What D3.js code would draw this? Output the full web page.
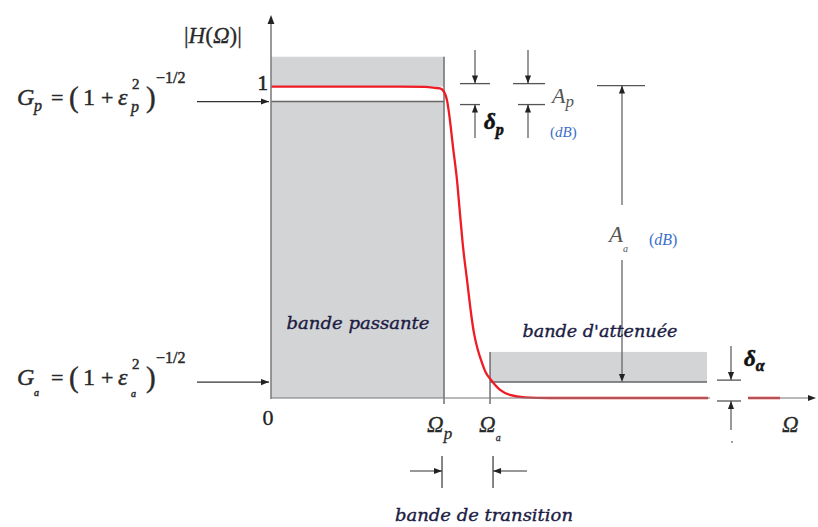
<!DOCTYPE html>
<html>
<head>
<meta charset="utf-8">
<script src="https://cdn.jsdelivr.net/npm/d3@7"></script>
<style>
  html, body { margin: 0; padding: 0; background: #fff; }
  svg { display: block; }
</style>
</head>
<body>
<svg id="chart" width="818" height="527"></svg>
<script>
// ---- Low-pass filter template: gain levels and band edges ----
const gainUnity = 1;          // |H| = 1
const gainPass = 0.952;       // G_p, passband floor
const gainStop = 0.051;       // G_a, stopband ceiling
const passBoxTop = 1.096;     // top of the forbidden region above the passband
const stopBoxTop = 0.148;     // top of the forbidden region above the stopband
const gainAxisMax = 1.23;

const omegaPass = 1.0;        // Ω_p
const omegaStop = 1.266;      // Ω_a
const omegaStopEnd = 2.52;    // end of the stopband box
const omegaAxisMax = 3.15;

// Magnitude response |H(Ω)|
const responseOmega = [0, 0.746, 0.89, 0.948, 0.977, 1.0, 1.017, 1.029, 1.052, 1.075, 1.092,
  1.110, 1.133, 1.156, 1.173, 1.191, 1.220, 1.243, 1.272, 1.324, 1.381, 1.468, 1.613, 2.526];
const responseGain = [1.0, 1.0, 0.999, 0.996, 0.994, 0.983, 0.957, 0.915, 0.806, 0.700, 0.594,
  0.485, 0.379, 0.273, 0.209, 0.164, 0.112, 0.080, 0.058, 0.026, 0.010, 0.002, 0, 0];
// Response continuing past the axis break
const tailOmega = [2.757, 2.942];
const tailGain = [0, 0];

// Axis break on the frequency axis
const breakStart = 2.537, breakEnd = 2.757;

// ---- Scales ----
const x = d3.scaleLinear().domain([0, omegaAxisMax]).range([271, 816]);
const y = d3.scaleLinear().domain([0, gainAxisMax]).range([398, 15]);

const svg = d3.select("#chart");
const ink = "#555", axisGray = "#808080", fillGray = "#d3d4d6", red = "#ee1c24";
const serif = "'Liberation Serif', 'DejaVu Serif', serif";
const script = "'DejaVu Serif', serif";

function arrowHead(g, x2, y2, angle, size = 8, color = "#222") {
  const w = size * 0.38;
  g.append("path")
    .attr("d", `M0,0 L${-size},${-w} L${-size},${w} Z`)
    .attr("transform", `translate(${x2},${y2}) rotate(${angle})`)
    .attr("fill", color);
}
function arrow(g, x1, y1, x2, y2, color = ink, width = 1.2) {
  g.append("line").attr("x1", x1).attr("y1", y1).attr("x2", x2).attr("y2", y2)
    .attr("stroke", color).attr("stroke-width", width);
  const ang = Math.atan2(y2 - y1, x2 - x1) * 180 / Math.PI;
  arrowHead(g, x2, y2, ang);
}
function hline(g, x1, x2, yy, color = ink, width = 1.3) {
  g.append("line").attr("x1", x1).attr("x2", x2).attr("y1", yy).attr("y2", yy)
    .attr("stroke", color).attr("stroke-width", width);
}
function vline(g, xx, y1, y2, color = ink, width = 1.3) {
  g.append("line").attr("x1", xx).attr("x2", xx).attr("y1", y1).attr("y2", y2)
    .attr("stroke", color).attr("stroke-width", width);
}
function txt(g, s, xx, yy, opts = {}) {
  const t = g.append("text").attr("x", xx).attr("y", yy).text(s)
    .attr("font-family", opts.family || serif)
    .attr("font-size", opts.size || 22)
    .attr("font-style", opts.italic ? "italic" : "normal")
    .attr("font-weight", opts.bold ? "bold" : "normal")
    .attr("fill", opts.color || "#2a2a2a")
    .attr("text-anchor", opts.anchor || "start");
  if (opts.heavy) t.attr("stroke", opts.color || "#2a2a2a").attr("stroke-width", opts.heavy);
  return t;
}

const g = svg.append("g");

// ---- Tolerance boxes ----
g.append("rect").attr("x", x(0)).attr("y", y(passBoxTop))
  .attr("width", x(omegaPass) - x(0)).attr("height", y(gainUnity) - y(passBoxTop))
  .attr("fill", fillGray);
g.append("rect").attr("x", x(0)).attr("y", y(gainPass))
  .attr("width", x(omegaPass) - x(0)).attr("height", y(0) - y(gainPass))
  .attr("fill", fillGray);
g.append("rect").attr("x", x(omegaStop)).attr("y", y(stopBoxTop))
  .attr("width", x(omegaStopEnd) - x(omegaStop)).attr("height", y(gainStop) - y(stopBoxTop))
  .attr("fill", fillGray);

// Box edges
vline(g, x(omegaPass), y(passBoxTop), y(0) + 6, "#666", 1.4);
hline(g, x(0), x(omegaPass), y(gainPass), "#666", 1.5);
vline(g, x(omegaStop), y(stopBoxTop), y(0) + 6, "#666", 1.4);
hline(g, x(omegaStop), x(omegaStopEnd), y(gainStop), "#666", 1.5);

// ---- Response curve ----
const line = d3.line().x(d => x(d[0])).y(d => y(d[1])).curve(d3.curveMonotoneX);
g.append("path").datum(d3.zip(responseOmega, responseGain))
  .attr("d", line).attr("fill", "none").attr("stroke", red).attr("stroke-width", 2.3);
g.append("path").datum(d3.zip(tailOmega, tailGain))
  .attr("d", line).attr("fill", "none").attr("stroke", red).attr("stroke-width", 2.3);

// ---- Axes ----
vline(g, x(0), y(0) + 1, y(gainAxisMax) + 4, axisGray, 1.6);
arrowHead(g, x(0), y(gainAxisMax), -90, 9, "#222");
g.append("line").attr("x1", x(0)).attr("x2", x(breakStart)).attr("y1", y(0)).attr("y2", y(0))
  .attr("stroke", axisGray).attr("stroke-width", 1.8).attr("stroke-opacity", 0.55);
g.append("line").attr("x1", x(breakEnd)).attr("x2", x(omegaAxisMax) - 4).attr("y1", y(0)).attr("y2", y(0))
  .attr("stroke", axisGray).attr("stroke-width", 1.8).attr("stroke-opacity", 0.55);
arrowHead(g, x(omegaAxisMax), y(0), 0, 8, "#222");

// Axis labels
const yl = txt(g, "", 184, 43, { size: 23, heavy: 0.3 });
yl.append("tspan").text("|");
yl.append("tspan").text("H").attr("font-style", "italic");
yl.append("tspan").text("(");
yl.append("tspan").text("Ω").attr("font-style", "italic");
yl.append("tspan").text(")|");

txt(g, "1", x(0) - 3, y(gainUnity) + 3, { size: 21, anchor: "end", color: "#222", heavy: 0.6 });
txt(g, "0", x(0) - 3, 425, { size: 22, anchor: "middle", color: "#222", heavy: 0.3 });

const wp = txt(g, "Ω", x(omegaPass) - 17, 432, { size: 23, italic: true, heavy: 0.3 });
wp.append("tspan").text("p").attr("font-size", 17).attr("dy", 7);
const wa = txt(g, "Ω", x(omegaStop) - 11, 432, { size: 23, italic: true, heavy: 0.3 });
wa.append("tspan").text("a").attr("font-size", 10).attr("dy", 9);
txt(g, "Ω", 782, 432, { size: 23, italic: true, heavy: 0.3 });

// ---- Gain formulas on the left ----
function gainFormula(base, sub, subSize, subDy) {
  const h = 0.45;
  txt(g, "G", 17, base, { size: 24, italic: true, heavy: h });
  txt(g, sub, 34, base + subDy, { size: subSize, italic: true, heavy: h });
  txt(g, "=", 51, base, { size: 22, heavy: h });
  txt(g, "(", 69, base + 2, { size: 29, heavy: h });
  txt(g, "1", 83, base, { size: 24, heavy: h });
  txt(g, "+", 101, base, { size: 22, heavy: h });
  txt(g, "ε", 118, base, { size: 24, italic: true, heavy: h });
  txt(g, "2", 132, base - 16, { size: 15, heavy: h });
  txt(g, sub, 131, base + subDy + 1, { size: subSize, italic: true, heavy: h });
  txt(g, ")", 146, base + 2, { size: 29, heavy: h });
  txt(g, "−1/2", 156, base - 22, { size: 16, heavy: h });
}
gainFormula(y(gainPass) + 3.5, "p", 16, 6);
gainFormula(y(gainStop) + 3, "a", 10, 11);
arrow(g, 197, y(gainPass), x(0) - 2, y(gainPass), "#333", 1.2);
arrow(g, 197, y(gainStop), x(0) - 2, y(gainStop), "#333", 1.2);

// ---- δ_p / A_p annotation ----
const yTop = y(gainUnity) - 3, yBot = y(gainPass) + 3;
[[475, 460, 490, 460, 480], [528, 513, 545, 518, 545]].forEach(([cx, t1, t2, b1, b2]) => {
  hline(g, t1, t2, yTop);
  arrow(g, cx, 50, cx, yTop);
  hline(g, b1, b2, yBot);
  arrow(g, cx, 138, cx, yBot);
});
const dp = txt(g, "δ", 484, 129, { size: 23, bold: true, italic: true, color: "#111", heavy: 0.6 });
dp.append("tspan").text("p").attr("font-size", 16).attr("dy", 6);
const ap = txt(g, "A", 552, 103, { size: 22, italic: true, color: "#555" });
ap.append("tspan").text("p").attr("font-size", 17).attr("dy", 4);
const apdb = txt(g, "(", 550, 137, { size: 15, color: "#3a6fc8" });
apdb.append("tspan").text("dB").attr("font-style", "italic");
apdb.append("tspan").text(")");

// ---- A_a annotation ----
const xAa = 622;
hline(g, 597, 645, y(gainUnity) - 1);
vline(g, xAa, y(gainUnity) - 1, 205, "#666", 1.3);
vline(g, xAa, 260, y(gainStop) - 4, "#666", 1.3);
arrowHead(g, xAa, y(gainUnity) - 1, -90);
arrowHead(g, xAa, y(gainStop), 90);
const aa = txt(g, "A", 609, 242, { size: 23, italic: true, color: "#555" });
aa.append("tspan").text("a").attr("font-size", 10).attr("dy", 10);
const aadb = txt(g, "(", 649, 245, { size: 16, color: "#3a6fc8" });
aadb.append("tspan").text("dB").attr("font-style", "italic");
aadb.append("tspan").text(")");

// ---- δ_a annotation ----
const xDa = 731;
hline(g, 717, 741, y(gainStop) - 2);
arrow(g, xDa, 346, xDa, y(gainStop) - 2);
hline(g, 717, 741, y(0) + 3);
arrow(g, xDa, 430, xDa, y(0) + 3);
g.append("circle").attr("cx", xDa + 1).attr("cy", 442).attr("r", 0.9).attr("fill", "#777");
const da = txt(g, "δ", 744, 366, { size: 23, bold: true, italic: true, color: "#111", heavy: 0.6 });
da.append("tspan").text("α").attr("font-size", 16).attr("dy", 5);

// ---- Transition band marker ----
vline(g, x(omegaPass) - 2, 456, 488, "#444", 1.3);
vline(g, x(omegaStop) + 3, 456, 488, "#444", 1.3);
arrow(g, 410, 471, x(omegaPass) - 2, 471, "#333");
arrow(g, 527, 471, x(omegaStop) + 3, 471, "#333");

// ---- Band names ----
const bandColor = "#1c1c44";
const band = { family: script, size: 16, italic: true, anchor: "middle", color: bandColor, heavy: 0.35 };
txt(g, "bande passante", 358, 329, band)
  .attr("textLength", 143).attr("lengthAdjust", "spacingAndGlyphs");
txt(g, "bande d'attenuée", 600, 337, band)
  .attr("textLength", 155).attr("lengthAdjust", "spacingAndGlyphs");
txt(g, "bande de transition", 484, 521, band)
  .attr("textLength", 178).attr("lengthAdjust", "spacingAndGlyphs");
</script>
</body>
</html>
